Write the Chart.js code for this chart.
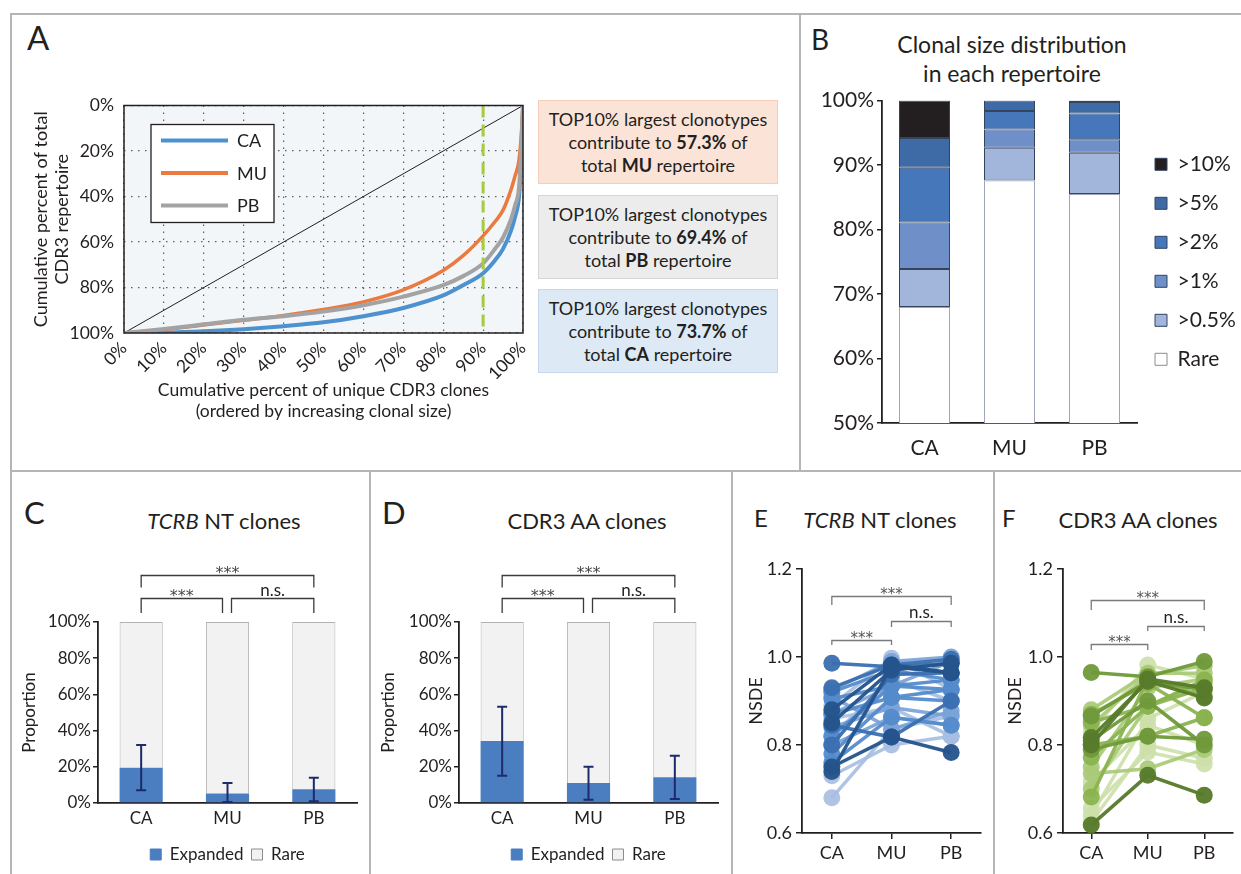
<!DOCTYPE html>
<html>
<head>
<meta charset="utf-8">
<script src="https://cdn.jsdelivr.net/npm/chart.js@4.4.1/dist/chart.umd.min.js"></script>
<style>
  body { margin:0; width:1241px; height:874px; position:relative; overflow:hidden; background:#fff; font-family:Lato, "Open Sans", sans-serif; color:#231f20; }
  canvas { position:absolute; }
  .ln { position:absolute; background:#b5b5b5; }
  .letter { position:absolute; line-height:1; }
  .ttl { position:absolute; line-height:1; white-space:nowrap; transform:translateX(-50%); font-size:22px; }
  .tbox { position:absolute; left:538px; width:240px; height:84px; box-sizing:border-box; border:1.5px solid; font-size:18px; line-height:23px; text-align:center; padding-top:7px; }
</style>
</head>
<body>
<!-- panel frame -->
<div class="ln" style="left:10px;top:13px;width:1231px;height:1.5px"></div>
<div class="ln" style="left:10px;top:13px;width:1.5px;height:861px"></div>
<div class="ln" style="left:799px;top:13px;width:1.5px;height:457px"></div>
<div class="ln" style="left:10px;top:470px;width:1231px;height:1.5px"></div>
<div class="ln" style="left:369px;top:470px;width:1.5px;height:404px"></div>
<div class="ln" style="left:731px;top:470px;width:1.5px;height:404px"></div>
<div class="ln" style="left:993px;top:470px;width:1.5px;height:404px"></div>

<div class="letter" style="left:27px;top:21px;font-size:33px">A</div>
<div class="letter" style="left:811px;top:25px;font-size:28px">B</div>
<div class="letter" style="left:24px;top:497px;font-size:31px">C</div>
<div class="letter" style="left:382px;top:497px;font-size:31px">D</div>
<div class="letter" style="left:754px;top:506px;font-size:24px">E</div>
<div class="letter" style="left:1002px;top:506px;font-size:24px">F</div>

<div class="ttl" style="left:1012px;top:30px;line-height:29px;text-align:center;font-size:23px">Clonal size distribution<br>in each repertoire</div>
<div class="ttl" style="left:224px;top:510px"><i>TCRB</i> NT clones</div>
<div class="ttl" style="left:587px;top:510px">CDR3 AA clones</div>
<div class="ttl" style="left:880px;top:509px"><i>TCRB</i> NT clones</div>
<div class="ttl" style="left:1138px;top:509px">CDR3 AA clones</div>

<div class="tbox" style="top:100px;background:#fbe3d7;border-color:#f5cdb9">TOP10% largest clonotypes<br>contribute to <b>57.3%</b> of<br>total <b>MU</b> repertoire</div>
<div class="tbox" style="top:195px;background:#ececec;border-color:#d5d5d5">TOP10% largest clonotypes<br>contribute to <b>69.4%</b> of<br>total <b>PB</b> repertoire</div>
<div class="tbox" style="top:289px;background:#dde9f5;border-color:#c4d8ec">TOP10% largest clonotypes<br>contribute to <b>73.7%</b> of<br>total <b>CA</b> repertoire</div>

<canvas id="cumChart" width="520" height="340" style="left:24px;top:85px"></canvas>
<canvas id="sizeChart" width="420" height="380" style="left:822px;top:85px"></canvas>
<canvas id="ntChart" width="350" height="333" style="left:15px;top:540px"></canvas>
<canvas id="aaChart" width="350" height="333" style="left:374px;top:540px"></canvas>
<canvas id="ntNsde" width="250" height="325" style="left:741px;top:540px"></canvas>
<canvas id="aaNsde" width="241" height="325" style="left:1000px;top:540px"></canvas>

<script>
// ---- data ----
const groups = ['CA', 'MU', 'PB'];

// A: cumulative curves (x = % of unique clones, y = % of repertoire, axis reversed)
const cumX  = [0, 10, 20, 30, 40, 50, 60, 70, 80, 85, 90, 93, 95, 97, 98, 99, 99.6, 100];
const cumCA = [100, 99.8, 99.2, 98.3, 97, 95.3, 92.6, 89, 83.5, 79, 73.7, 68, 63, 55, 49, 40, 22, 0];
const cumMU = [100, 98.5, 96.5, 94.4, 92.3, 89.7, 86.3, 81, 72.5, 66, 57.3, 51, 46, 37, 31, 24, 12, 0];
const cumPB = [100, 98.2, 96.2, 94.2, 92.6, 90.6, 87.8, 84, 79, 75, 69.4, 63, 58, 50, 44, 36, 18, 0];
const pctTicks = [0, 10, 20, 30, 40, 50, 60, 70, 80, 90, 100];

// B: clonal size classes (% of repertoire)
const sizeClasses = ['Rare', '>0.5%', '>1%', '>2%', '>5%', '>10%'];
const sizeRare = [68, 87.6, 85.5];
const size05   = [5.9, 5.1, 6.4];
const size1    = [7.2, 2.8, 2.1];
const size2    = [8.5, 2.9, 4.0];
const size5    = [4.6, 1.6, 1.8];
const size10   = [5.8, 0, 0.2];

// C / D: expanded vs rare proportion with error range
const ntExpanded = [19.5, 5.2, 7.6];
const ntRare     = [80.5, 94.8, 92.4];
const ntErrLow   = [7, 0.5, 1];
const ntErrHigh  = [32, 11, 14];
const aaExpanded = [34.3, 11, 14.2];
const aaRare     = [65.7, 89, 85.8];
const aaErrLow   = [15.1, 1.8, 2.2];
const aaErrHigh  = [53.2, 20, 26.1];

// E / F: NSDE per subject
const ntCA = [0.986, 0.93, 0.92, 0.905, 0.88, 0.87, 0.85, 0.84, 0.82, 0.80, 0.78, 0.75, 0.74, 0.73, 0.68, 0.89, 0.86, 0.91, 0.82, 0.76, 0.80, 0.845, 0.87, 0.925];
const ntMU = [0.978, 0.982, 0.97, 0.934, 0.982, 0.908, 0.97, 0.885, 0.934, 0.863, 0.908, 0.818, 0.978, 0.80, 0.836, 0.997, 0.885, 0.836, 0.95, 0.863, 0.96, 0.818, 0.934, 0.99];
const ntPB = [0.986, 0.995, 0.948, 0.926, 0.964, 0.90, 0.986, 0.866, 0.948, 0.845, 0.926, 0.783, 0.964, 0.82, 0.866, 0.926, 0.82, 0.877, 0.90, 0.845, 0.964, 0.90, 0.99, 1.0];
const ntShade = [3, 3, 2, 2, 4, 2, 4, 1, 2, 1, 2, 4, 4, 0, 0, 0, 0, 1, 0, 2, 3, 3, 1, 1];
const aaCA = [0.965, 0.88, 0.866, 0.852, 0.817, 0.80, 0.772, 0.735, 0.716, 0.682, 0.656, 0.618, 0.83, 0.79, 0.70, 0.64, 0.87, 0.81, 0.75, 0.625, 0.845, 0.80];
const aaMU = [0.955, 0.963, 0.945, 0.888, 0.945, 0.82, 0.888, 0.746, 0.845, 0.95, 0.784, 0.731, 0.982, 0.82, 0.89, 0.86, 0.94, 0.90, 0.93, 0.80, 0.96, 0.95];
const aaPB = [0.99, 0.963, 0.926, 0.948, 0.907, 0.862, 0.93, 0.79, 0.80, 0.91, 0.757, 0.686, 0.95, 0.813, 0.94, 0.92, 0.862, 0.80, 0.95, 0.77, 0.98, 0.93];
const aaShade = [3, 1, 3, 2, 4, 2, 2, 1, 0, 2, 0, 4, 0, 3, 1, 0, 2, 3, 1, 0, 1, 4];
const nsdeTicks = [0.6, 0.8, 1.0, 1.2];

// ---- look ----
const FONT = 'Lato, "Open Sans", sans-serif';
const STARFONT = '"DejaVu Sans", sans-serif';
const INK = '#231f20';
Chart.defaults.font.family = FONT;
Chart.defaults.color = INK;
Chart.defaults.animation = false;
Chart.defaults.plugins.tooltip.enabled = false;

const blues = ['rgba(166,190,226,0.9)', 'rgba(122,163,216,0.92)', 'rgba(84,139,204,0.94)', 'rgba(58,111,176,0.95)', 'rgba(37,84,140,0.96)'];
const greens = ['rgba(205,224,170,0.9)', 'rgba(169,202,118,0.92)', 'rgba(138,180,80,0.94)', 'rgba(111,153,58,0.95)', 'rgba(88,123,44,0.96)'];

const fixW = w => s => { s.width = w; };
const fixH = h => s => { s.height = h; };

// background + frame of panel A plot
const plotFrame = {
  id: 'plotFrame',
  beforeDraw(chart) {
    const a = chart.chartArea, c = chart.ctx;
    c.save(); c.fillStyle = '#f2f6f9'; c.fillRect(a.left, a.top, a.width, a.height); c.restore();
  },
  afterDatasetsDraw(chart) {
    const a = chart.chartArea, c = chart.ctx;
    c.save(); c.strokeStyle = INK; c.lineWidth = 1.5; c.strokeRect(a.left, a.top, a.width, a.height); c.restore();
  }
};

// boxed legend inside panel A plot
const boxLegend = {
  id: 'boxLegend',
  afterDraw(chart) {
    const c = chart.ctx, a = chart.chartArea;
    const items = chart.data.datasets.filter(d => d.inLegend).reverse();
    const x = a.left + 27, y = a.top + 19, w = 123, h = 98;
    c.save();
    c.fillStyle = '#fff'; c.fillRect(x, y, w, h);
    c.strokeStyle = INK; c.lineWidth = 1.3; c.strokeRect(x, y, w, h);
    c.font = '18px ' + FONT; c.textBaseline = 'middle';
    items.forEach((d, i) => {
      const ly = y + 16 + i * 32.5;
      c.strokeStyle = d.borderColor; c.lineWidth = 4;
      c.beginPath(); c.moveTo(x + 10, ly); c.lineTo(x + 77, ly); c.stroke();
      c.fillStyle = INK; c.fillText(d.label, x + 86, ly + 1);
    });
    c.restore();
  }
};

// error bars from dataset errLow / errHigh
const errorBars = {
  id: 'errorBars',
  afterDatasetsDraw(chart) {
    const c = chart.ctx, xs = chart.scales.x, ys = chart.scales.y;
    c.save(); c.strokeStyle = '#1d2a6b'; c.lineWidth = 2;
    chart.data.datasets.forEach(d => {
      if (!d.errLow) return;
      d.data.forEach((v, i) => {
        const x = xs.getPixelForValue(i), y1 = ys.getPixelForValue(d.errHigh[i]), y2 = ys.getPixelForValue(d.errLow[i]);
        c.beginPath();
        c.moveTo(x, y1); c.lineTo(x, y2);
        c.moveTo(x - 5, y1); c.lineTo(x + 5, y1);
        c.moveTo(x - 5, y2); c.lineTo(x + 5, y2);
        c.stroke();
      });
    });
    c.restore();
  }
};

// significance brackets, placed in scale units
const sigBrackets = {
  id: 'sigBrackets',
  afterDraw(chart, args, opts) {
    const c = chart.ctx, xs = chart.scales.x, ys = chart.scales.y;
    c.save();
    c.strokeStyle = opts.color; c.lineWidth = opts.width;
    c.textAlign = 'center'; c.textBaseline = 'alphabetic';
    (opts.items || []).forEach(b => {
      const x1 = xs.getPixelForValue(b.from) + (b.dx1 || 0);
      const x2 = xs.getPixelForValue(b.to) + (b.dx2 || 0);
      const yl = Math.round(ys.getPixelForValue(b.y)) + 0.5, yb = ys.getPixelForValue(b.leg);
      c.beginPath(); c.moveTo(x1, yb); c.lineTo(x1, yl); c.lineTo(x2, yl); c.lineTo(x2, yb); c.stroke();
      const star = b.label === '***';
      c.fillStyle = star ? opts.starColor : INK;
      c.font = star ? opts.starSize + 'px ' + STARFONT : opts.nsSize + 'px ' + FONT;
      c.fillText(b.label, (x1 + x2) / 2, yl - (star ? opts.starLift : opts.nsLift));
    });
    c.restore();
  }
};

// ---- A: cumulative distribution ----
const toXY = ys => cumX.map((x, i) => ({ x, y: ys[i] }));
new Chart(document.getElementById('cumChart'), {
  type: 'line',
  data: {
    datasets: [
      { label: 'top10', data: [{ x: 90, y: 0 }, { x: 90, y: 100 }], borderColor: '#a5cc3c', borderWidth: 3, borderDash: [12, 7], pointRadius: 0, order: 0 },
      { label: 'PB', inLegend: true, data: toXY(cumPB), borderColor: '#a3a3a3', borderWidth: 4, pointRadius: 0, cubicInterpolationMode: 'monotone', order: 1 },
      { label: 'MU', inLegend: true, data: toXY(cumMU), borderColor: '#ea7a3f', borderWidth: 3.5, pointRadius: 0, cubicInterpolationMode: 'monotone', order: 2 },
      { label: 'CA', inLegend: true, data: toXY(cumCA), borderColor: '#4d92cf', borderWidth: 4, pointRadius: 0, cubicInterpolationMode: 'monotone', order: 3 },
      { label: 'equal', data: [{ x: 0, y: 100 }, { x: 100, y: 0 }], borderColor: INK, borderWidth: 1, pointRadius: 0, order: 4 }
    ]
  },
  options: {
    responsive: false,
    layout: { padding: { top: 15, right: 21 } },
    plugins: { legend: { display: false } },
    scales: {
      x: {
        type: 'linear', min: 0, max: 100,
        afterFit: fixH(92),
        afterBuildTicks: s => { s.ticks = pctTicks.map(v => ({ value: v })); },
        ticks: { callback: v => v + '%', minRotation: 45, maxRotation: 45, font: { size: 17.5 }, padding: 5 },
        grid: { color: '#5e5e5e', lineWidth: 1.2, drawTicks: false },
        border: { display: false, dash: [1.5, 5.5] },
        title: { display: true, text: ['Cumulative percent of unique CDR3 clones', '(ordered by increasing clonal size)'], font: { size: 17.5 }, padding: { top: 0, bottom: 3 } }
      },
      y: {
        type: 'linear', min: 0, max: 100, reverse: true,
        afterFit: fixW(100),
        ticks: { stepSize: 20, callback: v => v + '%', font: { size: 17.5 }, padding: 10 },
        grid: { color: '#5e5e5e', lineWidth: 1.2, drawTicks: false },
        border: { display: false, dash: [1.5, 5.5] },
        title: { display: true, text: ['Cumulative percent of total', 'CDR3 repertoire'], font: { size: 18 }, padding: { top: 6, bottom: 0 } }
      }
    }
  },
  plugins: [plotFrame, boxLegend]
});

// ---- B: clonal size distribution ----
const sizeSeries = [sizeRare, size05, size1, size2, size5, size10];
const sizeColors = ['#ffffff', '#a2b5db', '#6f8fc8', '#4677ba', '#3e6aa5', '#231f20'];
new Chart(document.getElementById('sizeChart'), {
  type: 'bar',
  data: {
    labels: groups,
    datasets: sizeSeries.map((vals, i) => ({
      label: sizeClasses[i], data: vals,
      backgroundColor: sizeColors[i],
      borderColor: i === 0 ? '#9ea7b8' : '#34445f', borderWidth: 1, borderSkipped: i === 0 ? 'bottom' : false,
      categoryPercentage: 1, barPercentage: 0.6
    }))
  },
  options: {
    responsive: false,
    layout: { padding: { top: 13 } },
    plugins: {
      legend: {
        position: 'right', reverse: true, fullSize: false, align: 'center',
        labels: { boxWidth: 12, boxHeight: 12, padding: 18, font: { size: 21 }, color: INK,
          generateLabels: ch => Chart.defaults.plugins.legend.labels.generateLabels(ch).map(l => Object.assign(l, { lineWidth: 1, strokeStyle: l.datasetIndex === 0 ? '#8c8c8c' : '#34445f' })) }
      }
    },
    scales: {
      x: {
        stacked: true, afterFit: fixH(42),
        ticks: { font: { size: 21 }, padding: 13 },
        grid: { display: false, drawTicks: false },
        border: { color: INK, width: 1.8 }
      },
      y: {
        stacked: true, min: 50, max: 100, afterFit: fixW(60),
        ticks: { stepSize: 10, callback: v => v + '%', font: { size: 21 }, padding: 3 },
        grid: { drawOnChartArea: false, tickLength: 5, color: INK, lineWidth: 1.5 },
        border: { color: INK, width: 1.8 }
      }
    }
  }
});

// ---- C / D: expanded vs rare ----
function propChart(id, expanded, rare, low, high, yLeft, padRight) {
  new Chart(document.getElementById(id), {
    type: 'bar',
    data: {
      labels: groups,
      datasets: [
        { label: 'Expanded', data: expanded, errLow: low, errHigh: high, backgroundColor: '#4a7ec0', borderWidth: 0, categoryPercentage: 1, barPercentage: 0.5 },
        { label: 'Rare', data: rare, backgroundColor: '#f2f2f2', borderColor: '#b3b3b3', borderWidth: 1, borderSkipped: 'bottom', categoryPercentage: 1, barPercentage: 0.5 }
      ]
    },
    options: {
      responsive: false,
      layout: { padding: { top: 82, right: padRight, bottom: 0 } },
      plugins: {
        legend: {
          position: 'bottom', fullSize: false,
          labels: { boxWidth: 11, boxHeight: 11, padding: 8, font: { size: 17 }, color: INK,
            generateLabels: ch => Chart.defaults.plugins.legend.labels.generateLabels(ch).map(l => Object.assign(l, { lineWidth: 1, strokeStyle: l.datasetIndex === 0 ? '#4a7ec0' : '#8c8c8c' })) }
        },
        sigBrackets: {
          color: '#3a3a3a', width: 1.3, starColor: '#4a4a4a', starSize: 16, nsSize: 17, starLift: -2, nsLift: 3,
          items: [
            { from: 0, to: 2, y: 126, leg: 119, label: '***' },
            { from: 0, to: 1, dx2: -5, y: 113, leg: 105, label: '***' },
            { from: 1, to: 2, dx1: 4, y: 113, leg: 105, label: 'n.s.' }
          ]
        }
      },
      scales: {
        x: {
          stacked: true, afterFit: fixH(35),
          ticks: { font: { size: 17 }, padding: 5 },
          grid: { display: false, drawTicks: false },
          border: { color: INK, width: 1.8 }
        },
        y: {
          stacked: true, min: 0, max: 100, afterFit: fixW(yLeft),
          ticks: { stepSize: 20, callback: v => v + '%', font: { size: 17 }, padding: 2 },
          grid: { drawOnChartArea: false, tickLength: 5, color: INK, lineWidth: 1.5 },
          border: { color: INK, width: 1.8 },
          title: { display: true, text: 'Proportion', font: { size: 17 }, padding: { top: 4, bottom: 2 } }
        }
      }
    },
    plugins: [errorBars, sigBrackets]
  });
}
propChart('ntChart', ntExpanded, ntRare, ntErrLow, ntErrHigh, 83, 8);
propChart('aaChart', aaExpanded, aaRare, aaErrLow, aaErrHigh, 85, 6);

// ---- E / F: paired NSDE ----
function nsdeChart(id, ca, mu, pb, shade, palette, yLeft, padRight, brackets) {
  new Chart(document.getElementById(id), {
    type: 'line',
    data: {
      labels: groups,
      datasets: ca.map((v, i) => ({
        data: [v, mu[i], pb[i]],
        borderColor: palette[shade[i]], backgroundColor: palette[shade[i]],
        pointBackgroundColor: palette[shade[i]], pointBorderWidth: 0,
        borderWidth: 3.5, pointRadius: 8.5, order: -shade[i], clip: false
      }))
    },
    options: {
      responsive: false,
      layout: { padding: { top: 29, right: padRight } },
      plugins: {
        legend: { display: false },
        sigBrackets: { color: '#7a7a7a', width: 1.3, starColor: '#555', starSize: 15, nsSize: 17, starLift: -2, nsLift: 4, items: brackets }
      },
      scales: {
        x: {
          offset: true, afterFit: fixH(32),
          ticks: { font: { size: 18 }, padding: 3 },
          grid: { offset: false, drawOnChartArea: false, tickLength: 6, color: INK, lineWidth: 1.5 },
          border: { color: INK, width: 1.8 }
        },
        y: {
          min: 0.6, max: 1.2, afterFit: fixW(yLeft),
          afterBuildTicks: s => { s.ticks = nsdeTicks.map(v => ({ value: v })); },
          ticks: { callback: v => v.toFixed(1), font: { size: 18 }, padding: 4 },
          grid: { drawOnChartArea: false, tickLength: 6, color: INK, lineWidth: 1.5 },
          border: { color: INK, width: 1.8 },
          title: { display: true, text: 'NSDE', font: { size: 18 }, padding: { top: 4, bottom: 0 } }
        }
      }
    },
    plugins: [sigBrackets]
  });
}
nsdeChart('ntNsde', ntCA, ntMU, ntPB, ntShade, blues, 61, 10, [
  { from: 0, to: 2, y: 1.139, leg: 1.118, label: '***' },
  { from: 1, to: 2, y: 1.082, leg: 1.068, label: 'n.s.' },
  { from: 0, to: 1, y: 1.039, leg: 1.027, label: '***' }
]);
nsdeChart('aaNsde', aaCA, aaMU, aaPB, aaShade, greens, 63, 3, [
  { from: 0, to: 2, y: 1.13, leg: 1.107, label: '***' },
  { from: 1, to: 2, y: 1.071, leg: 1.059, label: 'n.s.' },
  { from: 0, to: 1, y: 1.03, leg: 1.016, label: '***' }
]);
</script>
</body>
</html>
